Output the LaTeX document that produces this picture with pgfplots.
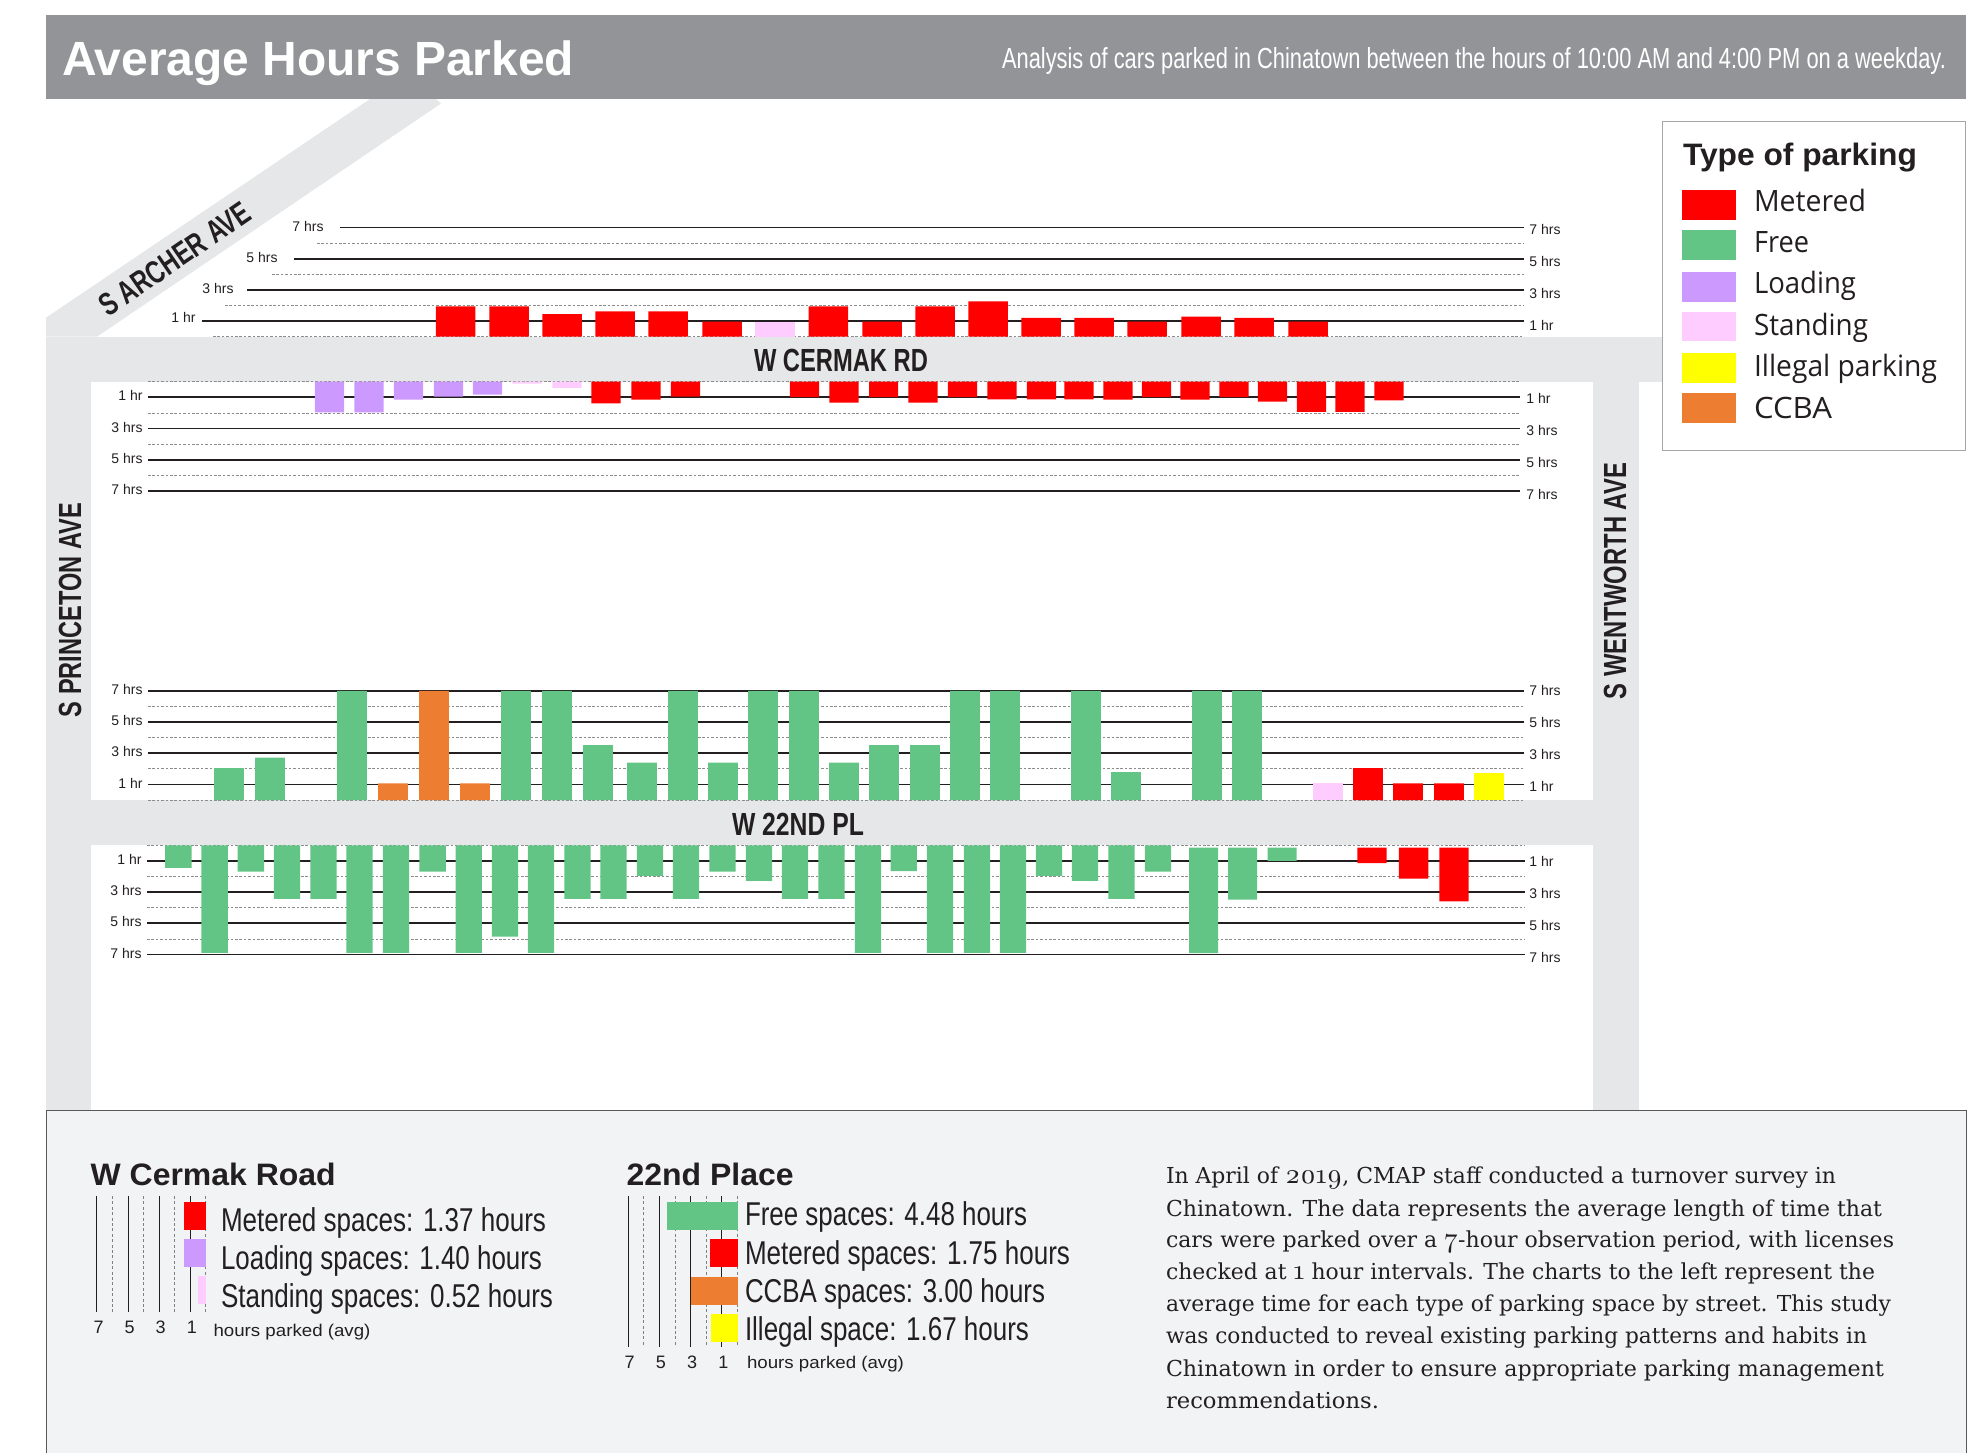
\documentclass[border=0pt]{standalone}
\usepackage{fontspec}
\usepackage{graphicx}
\usepackage{pgfplots}
\pgfplotsset{compat=1.18}
\setmainfont{Liberation Sans}
\newfontfamily\legfont{Open Sans}
\newfontfamily\parafont{DejaVu Serif}
\newfontfamily\oldnum[Numbers=OldStyle,Scale=1.25]{lmroman10-regular.otf}
\definecolor{ink}{HTML}{231F20}
\definecolor{road}{HTML}{E6E7E8}
\definecolor{band}{HTML}{929497}
\definecolor{foot}{HTML}{F2F3F5}
\definecolor{mred}{HTML}{FF0000}
\definecolor{mfree}{HTML}{62C586}
\definecolor{mload}{HTML}{CC99FF}
\definecolor{mstand}{HTML}{FFCCFF}
\definecolor{myellow}{HTML}{FFFF00}
\definecolor{mccba}{HTML}{ED7D31}
\newcommand\fs[1]{\fontsize{#1}{#1}\selectfont}
% [options]{x px}{baseline y px}{size pt}{width px}{text}
\newcommand\T[6][]{\node[anchor=base west,inner sep=0pt,outer sep=0pt,text=ink,#1] at (#2,#3) {\fs{#4}\resizebox{\dimexpr #5pt/2\relax}{\height}{#6}};}
% right-hand hour labels
\newcommand\R[3]{\node[anchor=west,inner sep=0pt,text=ink] at (#1,#2) {\fs{7}#3};}
\pgfplotsset{
  hrline/.style={draw=ink,line width=0.85pt,forget plot},
  hrdash/.style={draw=black!45,line width=0.4pt,dash pattern=on 1.3pt off 0.9pt,forget plot},
  hrs/.style={scale only axis,height=54.6pt,ymin=0,ymax=7,clip=false,
    axis line style={draw=none},tick style={draw=none},major tick length=0pt,minor tick length=0pt,
    xtick=\empty,ytick pos=left,
    ytick={1,3,5,7},yticklabels={1 hr,3 hrs,5 hrs,7 hrs},minor ytick={0,2,4,6},
    ymajorgrids,yminorgrids,major grid style={draw=ink,line width=0.85pt},
    minor grid style={draw=black!45,line width=0.4pt,dash pattern=on 1.3pt off 0.9pt},
    yticklabel style={font=\fs{7},text=ink,inner sep=0pt,xshift=-2.5pt,yshift=0.7pt}},
  b/.style={ybar,bar shift=0pt,draw=none,fill=#1},
  h/.style={xbar,bar shift=0pt,bar width=14pt,draw=none,fill=#1},
  mini/.style={scale only axis,xmin=0,xmax=7,x dir=reverse,y dir=reverse,clip=false,
    axis line style={draw=none},tick style={draw=none},major tick length=0pt,minor tick length=0pt,
    ytick=\empty,xtick pos=left,xtick={1,3,5,7},xticklabels={1,3,5,7},minor xtick={0,2,4,6},
    xmajorgrids,xminorgrids,major grid style={draw=ink,line width=0.5pt},
    minor grid style={draw=black!50,line width=0.35pt,dash pattern=on 1.5pt off 1.2pt},
    xticklabel style={font=\fs{9},text=ink,inner sep=0pt,xshift=0.8pt,yshift=-4.5pt}},
}
\begin{document}
\begin{tikzpicture}
\useasboundingbox (0,0) rectangle (986pt,-726.5pt);
% ---------- background: streets, header, footer
\begin{scope}[x=0.5pt,y=-0.5pt]
\fill[road] (46,317.7) -- (370,99) -- (436,99) -- (441,103.5) -- (97,336.7) -- (46,336.7) -- cycle;
\fill[road] (46,336.7) rectangle (91,1110);
\fill[road] (46,336.7) rectangle (1662,381.7);
\fill[road] (46,800) rectangle (1639,845);
\fill[road] (1593,381.7) rectangle (1639,1110);
\fill[band] (46,15) rectangle (1966,98.5);
\fill[foot] (46,1110) rectangle (1966,1453);
\draw[black!65,line width=0.5pt] (46,1453) -- (46,1110) -- (1966,1110) -- (1966,1453);
\end{scope}
% ---------- north side of W Cermak Rd
\begin{axis}[scale only axis,at={(0,-336.7*0.5pt)},anchor=south west,width=986pt,height=54.6pt,
  xmin=0,xmax=1972,ymin=0,ymax=7,clip=false,hide axis]
\addplot[hrline] coordinates {(340,7)(1523.5,7)};
\addplot[hrdash] coordinates {(317,6)(1523.5,6)};
\addplot[hrline] coordinates {(294,5)(1523.5,5)};
\addplot[hrdash] coordinates {(272,4)(1523.5,4)};
\addplot[hrline] coordinates {(247,3)(1523.5,3)};
\addplot[hrdash] coordinates {(225,2)(1523.5,2)};
\addplot[hrline] coordinates {(202,1)(1523.5,1)};
\addplot[hrdash] coordinates {(213,0)(1523.5,0)};
\addplot[b=mred,bar width=19.75pt] coordinates {(455.7,1.94)(509,1.94)(562,1.45)(615,1.62)(668,1.62)(722,0.96)
 (828.3,1.94)(882,0.96)(935,1.94)(988,2.26)(1041,1.2)(1094,1.2)(1147,0.96)(1201,1.28)(1254,1.2)(1308,0.96)};
\addplot[b=mstand,bar width=19.75pt] coordinates {(775,0.96)};
\end{axis}
% ---------- south side of W Cermak Rd
\begin{axis}[hrs,y dir=reverse,at={(148*0.5pt,-381.7*0.5pt)},anchor=north west,width=686pt,xmin=148,xmax=1520]
\addplot[b=mload,bar width=14.6pt] coordinates {(329.5,1.96)(369,1.96)(408.5,1.15)(448.5,0.96)(487.5,0.83)};
\addplot[b=mstand,bar width=14.6pt] coordinates {(527,0.13)(567,0.4)};
\addplot[b=mred,bar width=14.6pt] coordinates {(606,1.39)(646,1.15)(685.5,0.96)
 (804.4,0.98)(844,1.34)(883.6,0.98)(923,1.34)(962.5,0.98)(1002,1.13)(1041.5,1.13)(1079,1.13)(1118,1.15)
 (1156.5,0.98)(1195,1.15)(1234,0.98)(1272.5,1.28)(1311.5,1.94)(1350,1.94)(1389,1.19)};
\end{axis}
% ---------- north side of W 22nd Pl
\begin{axis}[hrs,at={(148*0.5pt,-800*0.5pt)},anchor=south west,width=688pt,xmin=148,xmax=1524]
\addplot[b=mfree,bar width=14.8pt] coordinates {(229,2.05)(270,2.71)(352,6.99)(516,6.99)(557,6.99)(598,3.52)(642,2.39)
 (683,6.99)(723,2.39)(763,6.99)(804,6.99)(844,2.39)(884,3.52)(925,3.52)(965,6.99)(1005,6.99)(1086,6.99)(1126,1.79)(1207,6.99)(1247,6.99)};
\addplot[b=mccba,bar width=14.8pt] coordinates {(393,1.07)(434,6.99)(475,1.07)};
\addplot[b=mstand,bar width=14.8pt] coordinates {(1328,1.07)};
\addplot[b=mred,bar width=14.8pt] coordinates {(1368,2.05)(1408,1.07)(1449,1.07)};
\addplot[b=myellow,bar width=14.8pt] coordinates {(1489,1.73)};
\end{axis}
% ---------- south side of W 22nd Pl
\begin{axis}[hrs,y dir=reverse,at={(147*0.5pt,-845.3*0.5pt)},anchor=north west,width=689pt,xmin=147,xmax=1525]
\addplot[b=mfree,bar width=13.2pt] coordinates {(178.3,1.45)(214.6,6.89)(250.8,1.68)(287,3.43)(323.5,3.43)(359.5,6.89)(396,6.89)(432.6,1.68)
 (468.7,6.89)(505,5.85)(541,6.89)(577.5,3.43)(613.5,3.43)(650,1.96)(686,3.43)(722.5,1.68)(759,2.28)(795,3.43)(831.5,3.43)
 (868,6.89)(903.7,1.66)(940,6.89)(977,6.89)(1013,6.89)(1049,1.96)(1085,2.28)(1121.5,3.43)(1158,1.68)};
\end{axis}
\begin{axis}[scale only axis,hide axis,clip=false,y dir=reverse,ymin=0,ymax=7,height=54.6pt,
  at={(147*0.5pt,-847.6*0.5pt)},anchor=north west,width=689pt,xmin=147,xmax=1525]
\addplot[b=mfree,bar width=14.5pt] coordinates {(1203.5,6.76)(1242.6,3.33)(1282,0.85)};
\addplot[b=mred,bar width=14.7pt] coordinates {(1372,1.0)(1413.6,1.98)(1454,3.45)};
\end{axis}
% ---------- W Cermak Road summary
\begin{axis}[mini,at={(97*0.5pt,-1196*0.5pt)},anchor=north west,width=54.35pt,height=57.85pt,
  ymin=-0.54,ymax=2.587]
\addplot[h=mred] coordinates {(1.37,0)};
\addplot[h=mload] coordinates {(1.40,1)};
\addplot[h=mstand] coordinates {(0.52,2)};
\end{axis}
% ---------- 22nd Place summary
\begin{axis}[mini,at={(628*0.5pt,-1196*0.5pt)},anchor=north west,width=54.75pt,height=75.5pt,
  ymin=-0.54,ymax=3.51]
\addplot[h=mfree] coordinates {(4.48,0)};
\addplot[h=mred] coordinates {(1.75,1)};
\addplot[h=mccba] coordinates {(3.00,2)};
\addplot[h=myellow] coordinates {(1.67,3)};
\end{axis}
% ---------- text and legend
\begin{scope}[x=0.5pt,y=-0.5pt]
\T[text=white]{62}{75}{24}{512}{\bfseries Average Hours Parked}
\T[text=white]{1002}{68.3}{14.5}{944}{Analysis of cars parked in Chinatown between the hours of 10:00 AM and 4:00 PM on a weekday.}
% street names
\node[inner sep=0pt,text=ink] at (841,360) {\fs{16}\resizebox{87pt}{\height}{\bfseries W CERMAK RD}};
\node[inner sep=0pt,text=ink] at (798,824) {\fs{16}\resizebox{66pt}{\height}{\bfseries W 22ND PL}};
\node[inner sep=0pt,text=ink,rotate=90] at (70,610) {\fs{16}\resizebox{107pt}{\height}{\bfseries S PRINCETON AVE}};
\node[inner sep=0pt,text=ink,rotate=90] at (1615,581) {\fs{16}\resizebox{118pt}{\height}{\bfseries S WENTWORTH AVE}};
\node[inner sep=0pt,text=ink,rotate=34.4] at (175,259) {\fs{16}\resizebox{88pt}{\height}{\bfseries S ARCHER AVE}};
% left hour labels of the stepped panel
\node[anchor=east,inner sep=0pt,text=ink] at (324,226.7) {\fs{7}7 hrs};
\node[anchor=east,inner sep=0pt,text=ink] at (278,257.3) {\fs{7}5 hrs};
\node[anchor=east,inner sep=0pt,text=ink] at (234,288.3) {\fs{7}3 hrs};
\node[anchor=east,inner sep=0pt,text=ink] at (196,317.3) {\fs{7}1 hr};
% right hour labels
\R{1529}{229.3}{7 hrs}\R{1529}{261.3}{5 hrs}\R{1529}{293.3}{3 hrs}\R{1529}{325.3}{1 hr}
\R{1526}{398.3}{1 hr}\R{1526}{430.6}{3 hrs}\R{1526}{462.3}{5 hrs}\R{1526}{494.3}{7 hrs}
\R{1529}{690.7}{7 hrs}\R{1529}{722.7}{5 hrs}\R{1529}{754.7}{3 hrs}\R{1529}{786.7}{1 hr}
\R{1529}{861.3}{1 hr}\R{1529}{893.7}{3 hrs}\R{1529}{925.3}{5 hrs}\R{1529}{957.3}{7 hrs}
% legend
\filldraw[fill=white,draw=black!35,line width=0.5pt] (1662,121.3) rectangle (1965.7,450.7);
\T{1683}{165.5}{15.5}{234}{\bfseries Type of parking}
\fill[mred] (1682,190) rectangle (1736,220);
\fill[mfree] (1682,230) rectangle (1736,260);
\fill[mload] (1682,272) rectangle (1736,302);
\fill[mstand] (1682,312) rectangle (1736,341);
\fill[myellow] (1682,353) rectangle (1736,383);
\fill[mccba] (1682,393) rectangle (1736,423);
\T{1754}{211}{14.7}{112}{\legfont Metered}
\T{1754}{252}{14.7}{55}{\legfont Free}
\T{1754}{293.5}{14.7}{102}{\legfont Loading}
\T{1754}{335}{14.7}{114}{\legfont Standing}
\T{1754}{376}{14.7}{183}{\legfont Illegal parking}
\T{1754}{418.7}{14.7}{78}{\legfont CCBA}
% footer
\T{90.7}{1185}{15.5}{245}{\bfseries W Cermak Road}
\T{221}{1231}{16.5}{325}{Metered spaces: 1.37 hours}
\T{221}{1269.5}{16.5}{321}{Loading spaces: 1.40 hours}
\T{221}{1307.5}{16.5}{332}{Standing spaces: 0.52 hours}
\T{213.5}{1336}{8.5}{157}{hours parked (avg)}
\T{626.6}{1185}{15.5}{167}{\bfseries 22nd Place}
\T{745}{1225}{16.5}{282}{Free spaces: 4.48 hours}
\T{745}{1264}{16.5}{325}{Metered spaces: 1.75 hours}
\T{745}{1302}{16.5}{300}{CCBA spaces: 3.00 hours}
\T{745}{1340}{16.5}{284}{Illegal space: 1.67 hours}
\T{747}{1368}{8.5}{157}{hours parked (avg)}
\newcommand\Y[1]{{\oldnum #1}}
\T{1166}{1183}{11}{670}{\parafont In April of \Y{2019}, CMAP staff conducted a turnover survey in}
\T{1166}{1216}{11}{716}{\parafont Chinatown. The data represents the average length of time that}
\T{1166}{1247.3}{11}{728}{\parafont cars were parked over a \Y{7}-hour observation period, with licenses}
\T{1166}{1279.3}{11}{709}{\parafont checked at \Y{1} hour intervals. The charts to the left represent the}
\T{1166}{1311.3}{11}{725}{\parafont average time for each type of parking space by street. This study}
\T{1166}{1343.3}{11}{701}{\parafont was conducted to reveal existing parking patterns and habits in}
\T{1166}{1376}{11}{718}{\parafont Chinatown in order to ensure appropriate parking management}
\T{1166}{1408}{11}{213}{\parafont recommendations.}
\end{scope}
\end{tikzpicture}
\end{document}
